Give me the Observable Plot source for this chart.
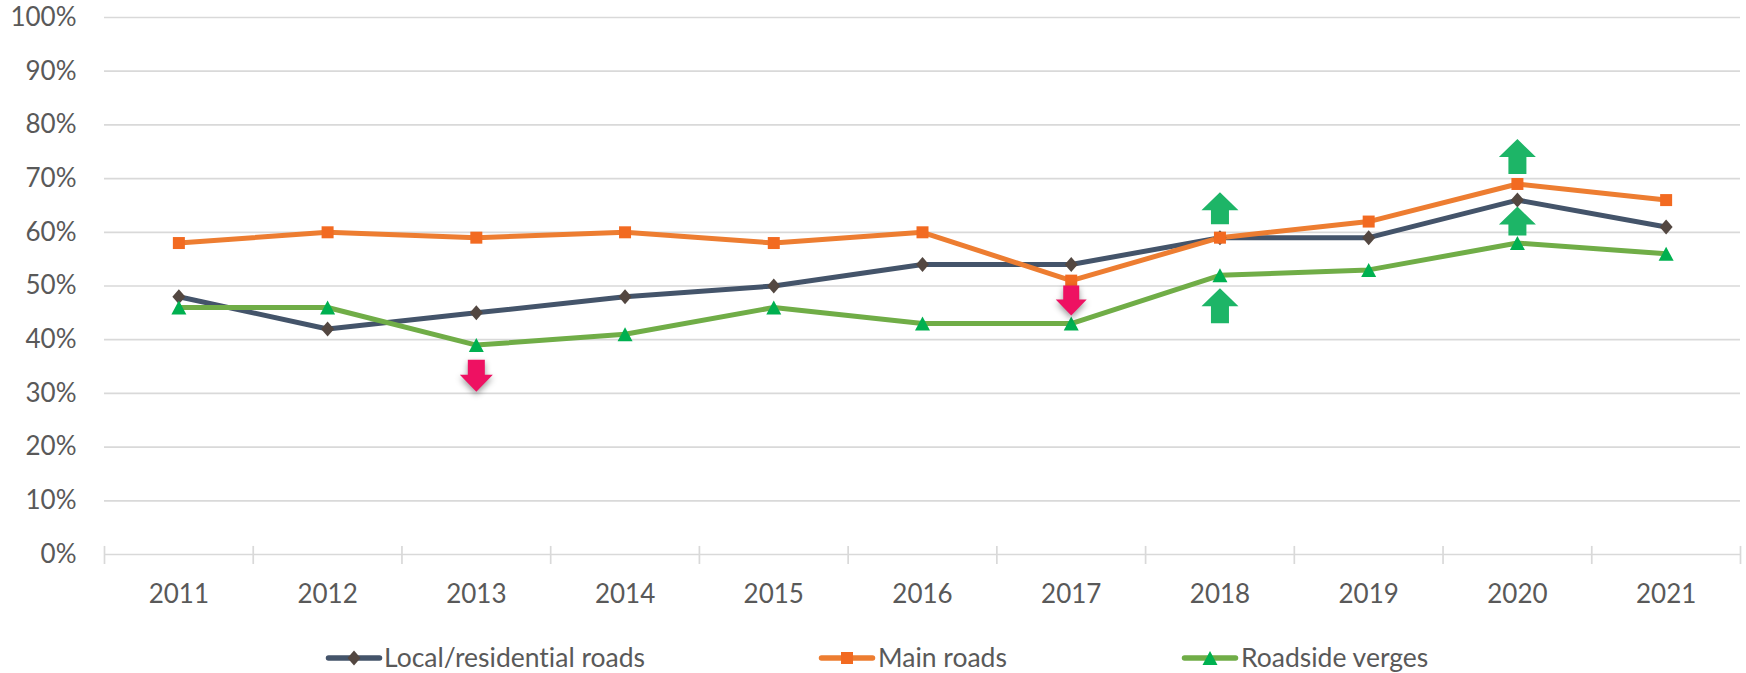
<!DOCTYPE html>
<html>
<head>
<meta charset="utf-8">
<script src="https://cdn.jsdelivr.net/npm/d3@7"></script>
<script src="https://cdn.jsdelivr.net/npm/@observablehq/plot@0.6"></script>
<style>
html,body{margin:0;padding:0;background:#fff;overflow:hidden}
#wrap{position:relative;width:1746px;height:673px;font-family:Lato,sans-serif;color:#595959;font-variant-ligatures:none}
#wrap svg{display:block}
.lg{position:absolute;top:639px;height:36px;line-height:36px;font-size:26.5px;white-space:nowrap}
.sw{position:absolute;top:645px}
</style>
</head>
<body>
<div id="wrap"></div>
<script>
const years = [2011,2012,2013,2014,2015,2016,2017,2018,2019,2020,2021];
const yTicks = [0,10,20,30,40,50,60,70,80,90,100];
const localRoads = [48,42,45,48,50,54,54,59,59,66,61];
const mainRoads = [58,60,59,60,58,60,51,59,62,69,66];
const roadsideVerges = [46,46,39,41,46,43,43,52,53,58,56];
const seriesNames = ["Local/residential roads","Main roads","Roadside verges"];
const upArrowYears = [2018,2018,2020,2020];
const upArrowValues = [64.5,46.3,74.1,62.1];
const downArrowYears = [2013,2017];
const downArrowValues = [33.3,47.3];

const poly = pts => ({draw(c){pts.forEach((p,i)=> i? c.lineTo(p[0],p[1]) : c.moveTo(p[0],p[1])); c.closePath();}});
const diamond = poly([[0,-7.5],[6.5,0],[0,7.5],[-6.5,0]]);
const square = poly([[-6,-6],[6,-6],[6,6],[-6,6]]);
const triangle = poly([[0,-7],[7.5,7],[-7.5,7]]);
const arrowUp = (w,h,hh,s) => poly([[0,-h/2],[w/2,-h/2+hh],[s/2,-h/2+hh],[s/2,h/2],[-s/2,h/2],[-s/2,-h/2+hh],[-w/2,-h/2+hh]]);
const arrowDown = (w,h,hh,s) => poly([[0,h/2],[w/2,h/2-hh],[s/2,h/2-hh],[s/2,-h/2],[-s/2,-h/2],[-s/2,h/2-hh],[-w/2,h/2-hh]]);

const styles = [
  {values:localRoads, line:"#44546a", marker:"#534741", symbol:diamond},
  {values:mainRoads, line:"#ed7d31", marker:"#f26a21", symbol:square},
  {values:roadsideVerges, line:"#70ad47", marker:"#00b050", symbol:triangle}
];
const boundaries = [...years.map(y=>y-0.5), years[years.length-1]+0.5];
const table = vals => years.map((year,i)=>({year,value:vals[i]}));
const upHeights = [32,35,35,29];
const downSizes = [[33,32,17,17],[31,30,16,16]];

const chart = Plot.plot({
  width:1746, height:630,
  marginLeft:104, marginRight:6, marginTop:17, marginBottom:76,
  style:{background:"#fff", fontFamily:"Lato,sans-serif", fontVariantLigatures:"none"},
  x:{type:"linear", domain:[2010.5,2021.5]},
  y:{domain:[0,100]},
  marks:[
    Plot.ruleY(yTicks,{stroke:"#d9d9d9",strokeWidth:1.7}),
    Plot.ruleX(boundaries,{y1:1.5,y2:-1.86,stroke:"#d9d9d9",strokeWidth:1.7}),
    Plot.axisY(yTicks,{anchor:"left",tickSize:0,tickPadding:28,fontSize:26,fill:"#595959",tickFormat:d=>d+"%",label:null}),
    Plot.axisX(years,{anchor:"bottom",tickSize:0,tickPadding:30,fontSize:26,fill:"#595959",tickFormat:d=>String(d),label:null}),
    ...styles.map(s=>Plot.line(table(s.values),{x:"year",y:"value",stroke:s.line,strokeWidth:5,strokeLinejoin:"round",strokeLinecap:"round"})),
    ...styles.map(s=>Plot.dot(table(s.values),{x:"year",y:"value",symbol:s.symbol,fill:s.marker,stroke:"none",r:6})),
    ...upArrowYears.map((year,i)=>Plot.dot([{year,value:upArrowValues[i]}],{x:"year",y:"value",r:10,stroke:"none",fill:"#1db567",symbol:arrowUp(37,upHeights[i],18,18)})),
    ...downArrowYears.map((year,i)=>Plot.dot([{year,value:downArrowValues[i]}],{x:"year",y:"value",r:10,stroke:"none",fill:"#ee1162",imageFilter:"drop-shadow(0 3px 3px rgba(0,0,0,.4))",symbol:arrowDown(...downSizes[i])}))
  ]
});
const wrap = document.getElementById("wrap");
wrap.appendChild(chart);

const legendPos = [{sw:325,text:384},{sw:818,text:878},{sw:1181,text:1241}];
const shapePts = [
  "0,-7.5 6.5,0 0,7.5 -6.5,0",
  "-6,-6 6,-6 6,6 -6,6",
  "0,-7 7.5,7 -7.5,7"
];
seriesNames.forEach((name,i)=>{
  const sw = document.createElement("div");
  sw.className="sw"; sw.style.left=legendPos[i].sw+"px";
  sw.innerHTML=`<svg width="58" height="26" viewBox="-29 -13 58 26"><line x1="-25.5" x2="25.5" y1="0" y2="0" stroke="${styles[i].line}" stroke-width="5.5" stroke-linecap="round"/><polygon points="${shapePts[i]}" fill="${styles[i].marker}"/></svg>`;
  wrap.appendChild(sw);
  const t = document.createElement("div");
  t.className="lg"; t.style.left=legendPos[i].text+"px"; t.textContent=name;
  wrap.appendChild(t);
});
</script>
</body>
</html>
